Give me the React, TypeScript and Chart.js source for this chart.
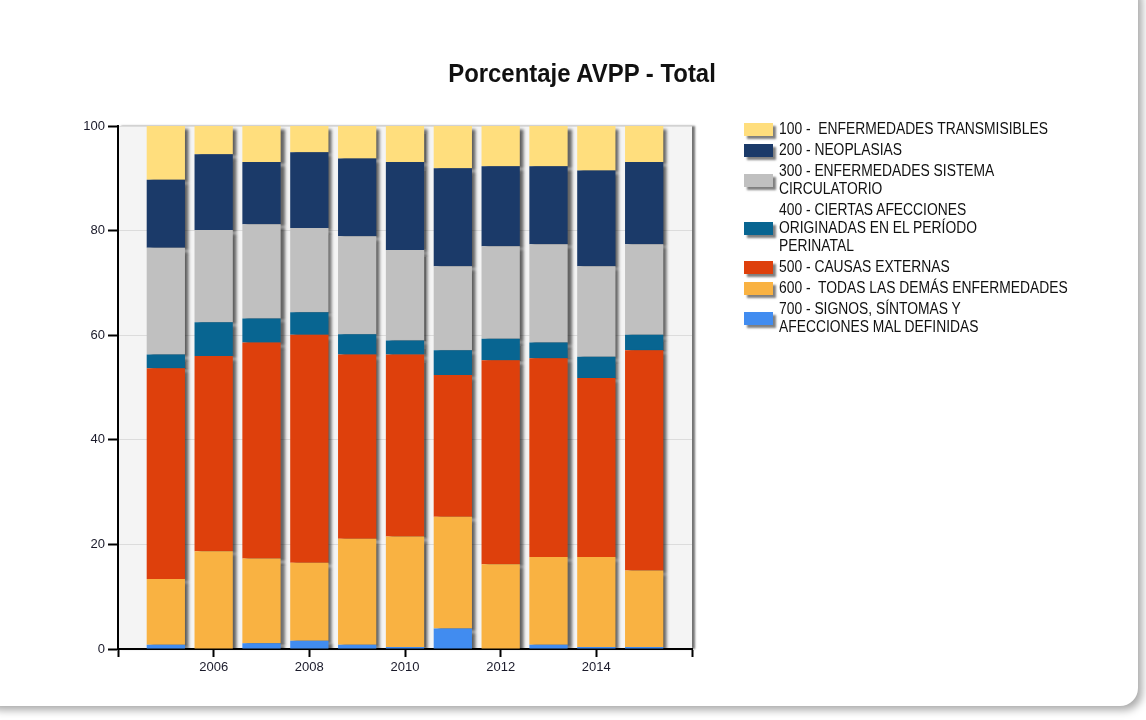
import React, { useEffect, useRef } from "react";
import { Chart, registerables } from "chart.js";

Chart.register(...registerables);

const years = [2005, 2006, 2007, 2008, 2009, 2010, 2011, 2012, 2013, 2014, 2015];

const s100 = [10.3, 5.4, 6.9, 5.0, 6.2, 6.9, 8.1, 7.7, 7.7, 8.5, 6.9];
const s200 = [13.0, 14.5, 11.9, 14.5, 14.9, 16.8, 18.7, 15.3, 14.9, 18.3, 15.7];
const s300 = [20.4, 17.6, 18.0, 16.1, 18.7, 17.3, 16.1, 17.7, 18.8, 17.3, 17.3];
const s400 = [2.6, 6.5, 4.6, 4.3, 3.9, 2.7, 4.7, 4.1, 3.0, 4.1, 3.0];
const s500 = [40.3, 37.3, 41.3, 43.6, 35.2, 34.8, 27.1, 39.0, 38.0, 34.2, 42.1];
const s600 = [12.6, 18.7, 16.2, 14.9, 20.3, 21.1, 21.4, 16.2, 16.8, 17.2, 14.6];
const s700 = [0.8, 0.0, 1.1, 1.6, 0.8, 0.4, 3.9, 0.0, 0.8, 0.4, 0.4];

const seriesNames = [
  "100 - ENFERMEDADES TRANSMISIBLES",
  "200 - NEOPLASIAS",
  "300 - ENFERMEDADES SISTEMA CIRCULATORIO",
  "400 - CIERTAS AFECCIONES ORIGINADAS EN EL PERÍODO PERINATAL",
  "500 - CAUSAS EXTERNAS",
  "600 - TODAS LAS DEMÁS ENFERMEDADES",
  "700 - SIGNOS, SÍNTOMAS Y AFECCIONES MAL DEFINIDAS",
];
const legendLines = [
  ["100 -  ENFERMEDADES TRANSMISIBLES"],
  ["200 - NEOPLASIAS"],
  ["300 - ENFERMEDADES SISTEMA", "CIRCULATORIO"],
  ["400 - CIERTAS AFECCIONES", "ORIGINADAS EN EL PERÍODO", "PERINATAL"],
  ["500 - CAUSAS EXTERNAS"],
  ["600 -  TODAS LAS DEMÁS ENFERMEDADES"],
  ["700 - SIGNOS, SÍNTOMAS Y", "AFECCIONES MAL DEFINIDAS"],
];
const seriesValues = [s100, s200, s300, s400, s500, s600, s700];
const seriesColors = ["#FFDE7D", "#1B3A69", "#C0C0C0", "#086591", "#DE400C", "#F9B242", "#418CF0"];

const yTicks = [0, 20, 40, 60, 80, 100];
const xMin = 2004;
const xMax = 2016;

const FONT = "'Liberation Sans', Arial, sans-serif";

const plotBg = {
  id: "plotBg",
  beforeDraw(chart: any) {
    const { ctx, chartArea } = chart;
    ctx.save();
    ctx.shadowColor = "rgba(0,0,0,0.55)";
    ctx.shadowBlur = 2;
    ctx.shadowOffsetX = 3;
    ctx.shadowOffsetY = 0;
    ctx.fillStyle = "#f4f4f4";
    ctx.fillRect(chartArea.left, chartArea.top, chartArea.right - chartArea.left, chartArea.bottom - chartArea.top);
    ctx.restore();
  },
};

const barShadow = {
  id: "barShadow",
  beforeDatasetsDraw(chart: any) {
    const c = chart.ctx;
    c.save();
    c.shadowColor = "rgba(0,0,0,0.6)";
    c.shadowBlur = 3;
    c.shadowOffsetX = 4;
    c.shadowOffsetY = 3;
  },
  afterDatasetsDraw(chart: any) {
    chart.ctx.restore();
  },
};

function App() {
  const ref = useRef<HTMLCanvasElement>(null);

  useEffect(() => {
    document.body.style.margin = "0";
    document.body.style.background = "#ffffff";
    if (!ref.current) return;
    // bottom series first so that stacking starts with 700
    const order = [6, 5, 4, 3, 2, 1, 0];
    const datasets = order.map((k) => ({
      label: seriesNames[k],
      data: years.map((y, i) => ({ x: y, y: seriesValues[k][i] })),
      backgroundColor: seriesColors[k],
      borderWidth: 0,
      categoryPercentage: 1,
      barPercentage: 0.8,
    }));
    const chart = new Chart(ref.current, {
      type: "bar",
      data: { datasets },
      plugins: [plotBg, barShadow],
      options: {
        animation: false,
        responsive: false,
        maintainAspectRatio: false,
        layout: { padding: { top: 126, left: 68, right: 454, bottom: 41 } },
        plugins: {
          legend: { display: false },
          title: { display: false },
          tooltip: { enabled: false },
        },
        scales: {
          x: {
            type: "linear",
            stacked: true,
            min: xMin,
            max: xMax,
            offset: false,
            afterFit: (s: any) => {
              s.height = 30;
            },
            grid: {
              drawOnChartArea: false,
              offset: false,
              tickColor: "#000",
              tickLength: 8,
              tickWidth: 2,
            },
            border: { color: "#000", width: 2 },
            ticks: {
              stepSize: 2,
              autoSkip: false,
              maxRotation: 0,
              padding: 3,
              color: "#1a1a2a",
              font: { family: FONT, size: 13 },
              callback: (v: any) => (v === xMin || v === xMax ? "" : String(v)),
            },
          },
          y: {
            stacked: true,
            min: 0,
            max: 100,
            afterFit: (s: any) => {
              s.width = 50;
            },
            afterBuildTicks: (s: any) => {
              s.ticks = yTicks.map((v) => ({ value: v }));
            },
            grid: {
              color: "#dcdcdc",
              lineWidth: 1,
              tickColor: "#000",
              tickLength: 10,
              tickWidth: 2,
            },
            border: { color: "#000", width: 2 },
            ticks: {
              padding: 3,
              color: "#1a1a2a",
              font: { family: FONT, size: 13 },
            },
          },
        },
      },
    });
    return () => chart.destroy();
  }, []);

  return (
    <div style={{ position: "relative", width: 1146, height: 720, overflow: "hidden", background: "#fff" }}>
      <div
        style={{
          position: "absolute",
          left: -20,
          top: -20,
          width: 1158,
          height: 726,
          borderRadius: 18,
          background: "#fff",
          boxShadow: "4px 4px 8px rgba(0,0,0,0.35)",
        }}
      />
      <canvas ref={ref} width={1146} height={720} style={{ position: "absolute", left: 0, top: 0 }} />
      <div
        style={{
          position: "absolute",
          left: 0,
          width: 1164,
          top: 58,
          textAlign: "center",
          fontFamily: FONT,
          fontWeight: "bold",
          fontSize: 26,
          lineHeight: "30px",
          color: "#111",
          transform: "scaleX(0.92)",
          transformOrigin: "582px 0",
        }}
      >
        Porcentaje AVPP - Total
      </div>
      <div style={{ position: "absolute", left: 744, top: 120, fontFamily: FONT, fontSize: 16, color: "#111" }}>
        {legendLines.map((lines, k) => (
          <div key={k} style={{ display: "flex", alignItems: "center", marginBottom: 3 }}>
            <div
              style={{
                width: 29,
                height: 13,
                background: seriesColors[k],
                boxShadow: "3px 3px 2px rgba(0,0,0,0.5)",
                marginRight: 6,
                flexShrink: 0,
              }}
            />
            <div
              style={{
                lineHeight: "18px",
                whiteSpace: "pre",
                transform: "scaleX(0.865)",
                transformOrigin: "0 0",
              }}
            >
              {lines.map((t, j) => (
                <div key={j}>{t}</div>
              ))}
            </div>
          </div>
        ))}
      </div>
    </div>
  );
}

export default App;
